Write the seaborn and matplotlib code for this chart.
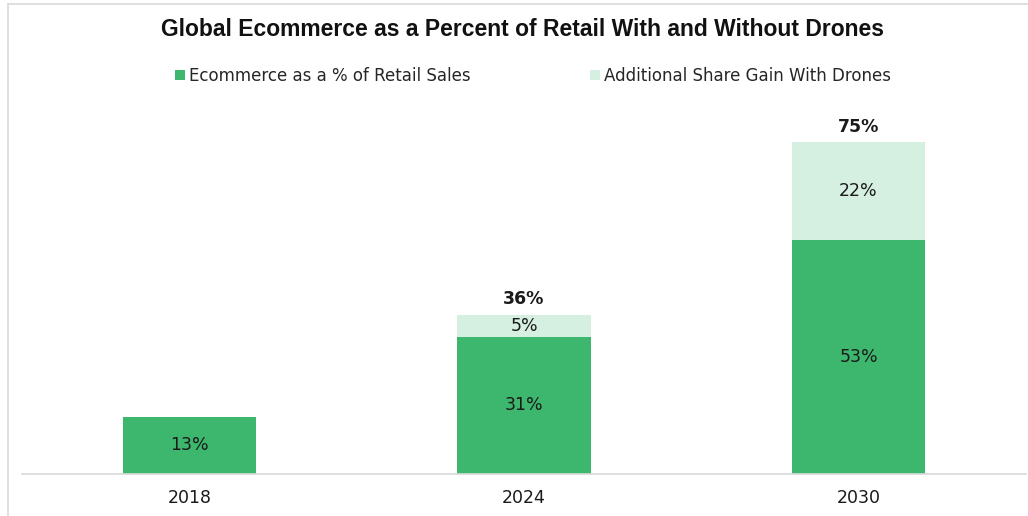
import matplotlib
matplotlib.use("Agg")
import matplotlib.pyplot as plt
from matplotlib import font_manager
from matplotlib.patches import Patch
from matplotlib.lines import Line2D
import seaborn as sns
import pandas as pd

# Data
years = ["2018", "2024", "2030"]
ecommerce_share = [13, 31, 53]
drone_gain = [0, 5, 22]
series_names = ["Ecommerce as a % of Retail Sales", "Additional Share Gain With Drones"]
chart_title = "Global Ecommerce as a Percent of Retail With and Without Drones"

DARK = "#3DB76E"
LIGHT = "#D5EFE1"
GRID = "#D9D9D9"
INK = "#1a1a1a"

available = {f.name for f in font_manager.fontManager.ttflist}
title_font = "Liberation Sans Narrow" if "Liberation Sans Narrow" in available else "Liberation Sans"
body_font = "DejaVu Sans"

sns.set_theme(style="white")
plt.rcParams["font.family"] = [body_font]

df = pd.DataFrame({
    "year": years,
    "base": ecommerce_share,
    "gain": drone_gain,
})
df["total"] = df["base"] + df["gain"]

fig = plt.figure(figsize=(10.28, 5.16), dpi=100)
ax = fig.add_axes([0.02164, 0.0814, 0.9762, 0.6853])

# stacked bars: full total in light green, base share drawn over it in dark green
sns.barplot(data=df, x="year", y="total", color=LIGHT, saturation=1, width=0.4,
            linewidth=0, ax=ax)
sns.barplot(data=df, x="year", y="base", color=DARK, saturation=1, width=0.4,
            linewidth=0, ax=ax)

ax.set_xlim(-0.5, 2.5)
ax.set_ylim(0, 80)
ax.set_xlabel("")
ax.set_ylabel("")
ax.set_yticks([])
for side in ["top", "right", "left"]:
    ax.spines[side].set_visible(False)
ax.spines["bottom"].set_color(GRID)
ax.spines["bottom"].set_linewidth(1.2)
ax.tick_params(axis="x", length=0, pad=11, labelsize=12.5, colors=INK)

# value labels
for i, row in df.iterrows():
    ax.text(i, row["base"] / 2, f"{row['base']}%", ha="center", va="center",
            fontsize=12.5, color=INK)
    if row["gain"] > 0:
        ax.text(i, row["base"] + row["gain"] / 2, f"{row['gain']}%", ha="center",
                va="center", fontsize=12.5, color=INK)
        ax.annotate(f"{row['total']}%", (i, row["total"]), xytext=(0, 5),
                    textcoords="offset points", ha="center", va="bottom",
                    fontsize=12.5, fontweight="bold", color=INK)

fig.text(0.5087, 1 - 30 / 516, chart_title, ha="center", va="center",
         fontsize=16.45, fontweight="bold", family=[title_font],
         color="#111111")

handles = [Patch(facecolor=DARK, edgecolor="none"), Patch(facecolor=LIGHT, edgecolor="none")]
fig.legend(handles, series_names, loc="center", bbox_to_anchor=(0.5185, 1 - 76 / 516),
           ncol=2, frameon=False, fontsize=12, handlelength=0.6, handleheight=0.6,
           handletextpad=0.25, columnspacing=7.2)

# outer frame lines on the top and left
fig.add_artist(Line2D([8 / 1028, 8 / 1028], [0, 1 - 4 / 516], transform=fig.transFigure,
                      color=GRID, linewidth=1.2))
fig.add_artist(Line2D([8 / 1028, 1], [1 - 4 / 516, 1 - 4 / 516], transform=fig.transFigure,
                      color=GRID, linewidth=1.2))

fig.savefig("out.png", dpi=100, facecolor="white")
